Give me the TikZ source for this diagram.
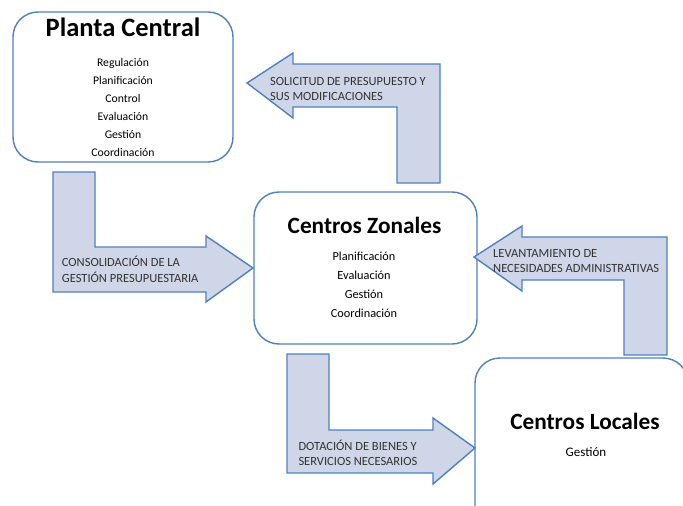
\documentclass[tikz,border=0pt]{standalone}
\usepackage{fontspec}
\setmainfont{Carlito}
\usetikzlibrary{positioning}
\definecolor{boxblue}{RGB}{79,129,189}
\definecolor{arrowfill}{RGB}{207,214,232}

\begin{document}
\begin{tikzpicture}[
    x=1pt, y=-1pt,
    every node/.style={inner sep=0pt},
    unitbox/.style={draw=boxblue, line width=1.4pt, rounded corners=25pt, fill=white},
    bigtitle/.style={font=\fontsize{26.5}{30}\selectfont\bfseries, anchor=base},
    subtitle/.style={font=\fontsize{23.3}{28}\selectfont\bfseries, anchor=base},
    tasks/.style={align=center, anchor=base},
    bigarrow/.style={draw=boxblue, line width=1.4pt, fill=arrowfill, line join=miter},
    arrowtext/.style={align=left, anchor=base west, text=black!80}
]
\clip (0,0) rectangle (683,506);
\fill[white] (0,0) rectangle (683,506);

\node[unitbox, minimum width=220pt, minimum height=150pt] (planta) at (123,87) {};
\node[unitbox, minimum width=223pt, minimum height=152pt] (zonales) at (365.5,268) {};
\node[unitbox, minimum width=213pt, minimum height=182pt] (locales) at (581.5,449) {};

\node[bigtitle] (plantatit) at (123,36.7) {Planta Central};
\node[tasks, font=\fontsize{11.7}{18}\selectfont] (plantatask) at (123,156.7)
    {Regulación\\Planificación\\Control\\Evaluación\\Gestión\\Coordinación};

\node[subtitle] (zonalestit) at (364.5,233.3) {Centros Zonales};
\node[tasks, font=\fontsize{12.3}{19.1}\selectfont] (zonalestask) at (364,317.3)
    {Planificación\\Evaluación\\Gestión\\Coordinación};

\node[subtitle] (localestit) at (585,429.3) {Centros Locales};
\node[tasks, font=\fontsize{13}{19}\selectfont] (localestask) at (586,456.7) {Gestión};

\draw[bigarrow] (247,83) -- (293,53) -- (293,64) -- (440,64) -- (440,183)
    -- (397,183) -- (397,107) -- (293,107) -- (293,118) -- cycle;
\node[arrowtext, font=\fontsize{12.5}{14.3}\selectfont] (solicitud) at (270,100)
    {SOLICITUD DE PRESUPUESTO Y\\SUS MODIFICACIONES};

\draw[bigarrow] (53,172) -- (95,172) -- (95,247) -- (206,247) -- (206,236)
    -- (253,268) -- (206,302) -- (206,292) -- (53,292) -- cycle;
\node[arrowtext, font=\fontsize{12.5}{16}\selectfont] (consolidacion) at (61.7,282.7)
    {CONSOLIDACIÓN DE LA\\GESTIÓN PRESUPUESTARIA};

\draw[bigarrow] (474,257) -- (522,226) -- (522,237) -- (667,237) -- (667,355)
    -- (624,355) -- (624,280) -- (522,280) -- (522,291) -- cycle;
\node[arrowtext, font=\fontsize{12.5}{14.6}\selectfont] (levantamiento) at (493,272.3)
    {LEVANTAMIENTO DE\\NECESIDADES ADMINISTRATIVAS};

\draw[bigarrow] (287,354) -- (329,354) -- (329,430) -- (433,430) -- (433,418)
    -- (475,448) -- (433,484) -- (433,473) -- (287,473) -- cycle;
\node[arrowtext, font=\fontsize{12.5}{15.7}\selectfont] (dotacion) at (298.3,465.7)
    {DOTACIÓN DE BIENES Y\\SERVICIOS NECESARIOS};
\end{tikzpicture}
\end{document}
